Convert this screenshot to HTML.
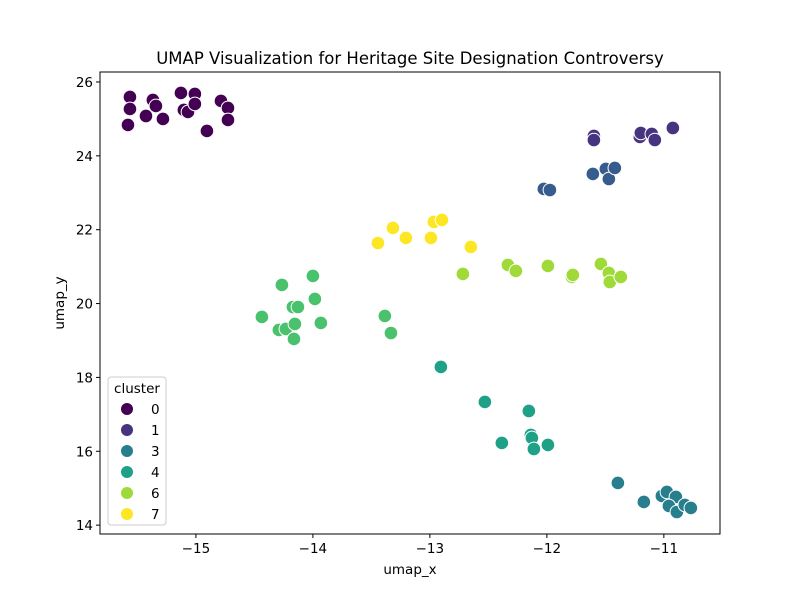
<!DOCTYPE html>
<html><head><meta charset="utf-8"><style>
body{margin:0;background:#fff}
svg{font-family:"DejaVu Sans","Liberation Sans",sans-serif}
</style></head><body>
<svg id="chart" width="800" height="600"></svg>
<script>
const clusters=[0,1,2,3,4,5,6,7];
const colors=["#440154","#463480","#365c8d","#277f8e","#1fa187","#4ac16d","#a0da39","#fde725"];
const xs0=[-15.564,-15.564,-15.581,-15.427,-15.368,-15.342,-15.282,-15.128,-15.103,-15.068,-15.009,-15.009,-14.906,-14.786,-14.726,-14.726];
const ys0=[25.594,25.269,24.836,25.079,25.513,25.350,24.998,25.702,25.242,25.188,25.675,25.404,24.673,25.486,25.296,24.971];
const xs1=[-11.598,-11.598,-11.205,-11.197,-11.103,-11.077,-10.923];
const ys1=[24.538,24.429,24.511,24.619,24.592,24.429,24.754];
const xs2=[-12.026,-11.974,-11.607,-11.496,-11.470,-11.419];
const ys2=[23.103,23.075,23.509,23.644,23.373,23.671];
const xs3=[-11.393,-11.171,-11.017,-10.974,-10.897,-10.957,-10.889,-10.821,-10.769];
const ys3=[15.142,14.627,14.790,14.898,14.763,14.519,14.356,14.546,14.465];
const xs4=[-12.906,-12.530,-12.154,-12.137,-12.128,-12.385,-12.111,-11.991];
const ys4=[18.283,17.335,17.091,16.442,16.360,16.225,16.062,16.171];
const xs5=[-14.436,-14.265,-14.000,-13.983,-14.171,-14.128,-14.291,-14.231,-14.154,-14.162,-13.932,-13.385,-13.333];
const ys5=[19.637,20.503,20.747,20.124,19.907,19.907,19.285,19.312,19.447,19.041,19.474,19.664,19.203];
const xs6=[-12.718,-12.333,-12.265,-11.991,-11.786,-11.778,-11.538,-11.470,-11.462,-11.368];
const ys6=[20.801,21.045,20.882,21.018,20.720,20.774,21.072,20.828,20.584,20.720];
const xs7=[-13.444,-13.316,-13.205,-12.991,-12.966,-12.897,-12.650];
const ys7=[21.640,22.047,21.776,21.776,22.209,22.263,21.532];
const xTicks=[-15,-14,-13,-12,-11];
const yTicks=[14,16,18,20,22,24,26];
const legendLabels=[0,1,3,4,6,7];

const XS=[xs0,xs1,xs2,xs3,xs4,xs5,xs6,xs7], YS=[ys0,ys1,ys2,ys3,ys4,ys5,ys6,ys7];
const L=100,R=720,T=72,B=534;
const xmin=-15.82,xmax=-10.52,ymin=13.76,ymax=26.27;
const sx=v=>L+(v-xmin)/(xmax-xmin)*(R-L);
const sy=v=>B-(v-ymin)/(ymax-ymin)*(B-T);
const svg=document.getElementById('chart');
const NS="http://www.w3.org/2000/svg";
function mk(tag,attrs,parent){const e=document.createElementNS(NS,tag);for(const k in attrs)e.setAttribute(k,attrs[k]);(parent||svg).appendChild(e);return e;}

const title=mk('text',{x:410,y:64,'text-anchor':'middle','font-size':16.5,fill:'#000'});
title.textContent='UMAP Visualization for Heritage Site Designation Controversy';



const pts=mk('g',{});


clusters.forEach((c,ci)=>{
  XS[ci].forEach((x,i)=>{
    const p=mk('circle',{cx:sx(x),cy:sy(YS[ci][i]),r:6.8,fill:colors[c],stroke:'#fff','stroke-width':1},pts);
    
    
  });
});

const frame=mk('rect',{x:L,y:T,width:R-L,height:B-T,fill:'none',stroke:'#000','stroke-width':1});



xTicks.forEach(t=>{
  const x=sx(t);
  mk('line',{x1:x,x2:x,y1:B,y2:B+4,stroke:'#000'});
  const tx=mk('text',{x:x,y:B+19,'text-anchor':'middle','font-size':13.5});
  tx.textContent='\u2212'+Math.abs(t);
  
  
});
yTicks.forEach(t=>{
  const y=sy(t);
  mk('line',{x1:L-4,x2:L,y1:y,y2:y,stroke:'#000'});
  const tx=mk('text',{x:L-7,y:y+5,'text-anchor':'end','font-size':13.5});
  tx.textContent=t;
  
  
});
const xl=mk('text',{x:410,y:574,'text-anchor':'middle','font-size':13.5});
xl.textContent='umap_x';


const yl=mk('text',{x:64,y:303,'text-anchor':'middle','font-size':13.5,transform:'rotate(-90 64 303)'});
yl.textContent='umap_y';



const lg=mk('g',{});


mk('rect',{x:108,y:377,width:58,height:148,rx:3,fill:'#fff','fill-opacity':0.8,stroke:'#ccc'},lg);
const lt=mk('text',{x:137,y:393,'text-anchor':'middle','font-size':13.5},lg);
lt.textContent='cluster';


legendLabels.forEach((c,i)=>{
  const y=409+i*21;
  const g=mk('g',{},lg);
  
  
  mk('circle',{cx:127,cy:y,r:6.5,fill:colors[c],stroke:'#fff'},g);
  const t=mk('text',{x:151,y:y+5,'font-size':13.5},g);
  t.textContent=c;
});
</script>
</body></html>
